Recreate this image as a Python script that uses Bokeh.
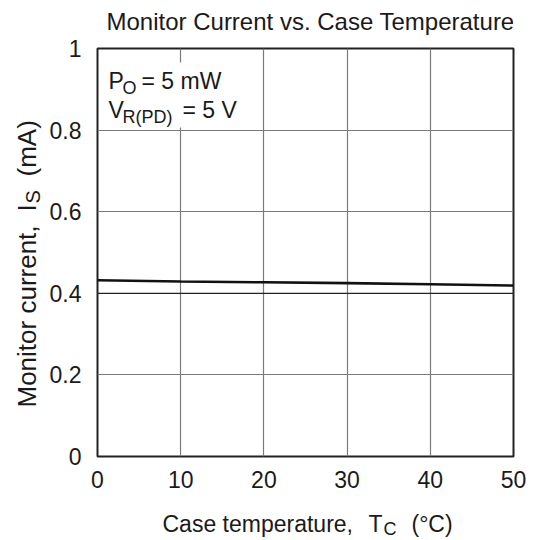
from math import pi
from bokeh.plotting import figure
from bokeh.layouts import row, column
from bokeh.models import Range1d, FixedTicker, Label, Span, BoxAnnotation
from bokeh.embed import file_html
from bokeh.resources import INLINE

# ---- data ----
temp_c = [0, 10, 20, 30, 40, 50]
monitor_ma = [0.432, 0.429, 0.427, 0.425, 0.422, 0.419]
x_ticks = [0, 10, 20, 30, 40, 50]
y_ticks = [0, 0.2, 0.4, 0.6, 0.8, 1]
y_tick_labels = ["0", "0.2", "0.4", "0.6", "0.8", "1"]
title_text = "Monitor Current vs. Case Temperature"

FONT = "Liberation Sans"
FS = 23
FS_SUB = 18
FS_TITLE = 24
FS_Y = 26
FS_Y_SUB = 20
TXT = "#1a1a1a"


def shift(size):
    # measured offset between the wanted baseline and where the text lands
    return 0.33 * size


# page geometry (pixels)
W, H = 534, 540
YL_W = 43          # strip for the rotated y label
TT_H = 35          # strip for the title
XL_H = 40          # strip for the x label
MAIN_W, MAIN_H = W - YL_W, H - TT_H - XL_H
FX0, FX1, FY0, FY1 = 97, 513, 48, 456
XMIN, XMAX, YMIN, YMAX = 0, 50, 0, 1
BL, BR = FX0 - YL_W, W - FX1


def dx(px):
    return XMIN + (px - FX0) / (FX1 - FX0) * (XMAX - XMIN)


def dy(py):
    return YMIN + (FY1 - py) / (FY1 - FY0) * (YMAX - YMIN)


p = figure(width=MAIN_W, height=MAIN_H, output_backend="svg", toolbar_location=None,
           x_range=Range1d(XMIN, XMAX), y_range=Range1d(YMIN, YMAX),
           min_border_left=BL, min_border_right=BR,
           min_border_top=FY0 - TT_H, min_border_bottom=TT_H + MAIN_H - FY1)
p.background_fill_color = "white"
p.border_fill_color = "white"
p.outline_line_color = "#222222"
p.outline_line_width = 2

for ax in (p.xaxis[0], p.yaxis[0]):
    ax.axis_line_color = None
    ax.major_tick_line_color = None
    ax.minor_tick_line_color = None
    ax.major_label_text_font = FONT
    ax.major_label_text_font_size = f"{FS}px"
    ax.major_label_text_color = TXT

p.xaxis[0].ticker = FixedTicker(ticks=x_ticks)
p.yaxis[0].ticker = FixedTicker(ticks=y_ticks)
p.yaxis[0].major_label_overrides = {t: s for t, s in zip(y_ticks, y_tick_labels)}
p.xaxis[0].major_label_standoff = 8
p.yaxis[0].major_label_standoff = 10

p.xgrid.ticker = FixedTicker(ticks=x_ticks)
p.ygrid.ticker = FixedTicker(ticks=y_ticks)
p.xgrid.grid_line_color = "#7a7a7a"
p.ygrid.grid_line_color = "#7a7a7a"
p.xgrid.grid_line_width = 1.2
p.ygrid.grid_line_width = 1.2

p.add_layout(Span(location=0.4, dimension="width", line_color="#222222", line_width=1.2))

p.line(temp_c, monitor_ma, line_color="#111111", line_width=2.6)

# white box behind the condition text
p.add_layout(BoxAnnotation(left=dx(104), right=dx(250), top=dy(62), bottom=dy(127),
                           fill_color="white", fill_alpha=1.0, line_color=None))


def plab(px, py, text, size=FS):
    p.add_layout(Label(x=dx(px), y=dy(py - shift(size)), text=text, text_font=FONT,
                       text_font_size=f"{size}px", text_color=TXT,
                       text_baseline="alphabetic"))


plab(108, 88, "P")
plab(122, 93, "O", FS_SUB)
plab(141, 88, "= 5 mW")
plab(108, 117, "V")
plab(122, 122, "R(PD)", FS_SUB)
plab(182, 117, "= 5 V")


def text_fig(w, h, x0, x1, y0, y1, bl=0, br=0):
    f = figure(width=w, height=h, output_backend="svg", toolbar_location=None,
               x_range=Range1d(x0, x1), y_range=Range1d(y1, y0),
               min_border_left=bl, min_border_right=br,
               min_border_top=0, min_border_bottom=0,
               x_axis_type=None, y_axis_type=None)
    f.outline_line_color = None
    f.background_fill_color = "white"
    f.border_fill_color = "white"
    return f


def flab(f, px, py, text, size=FS, rotated=False):
    if rotated:
        x, y, ang = px - shift(size), py, pi / 2
    else:
        x, y, ang = px, py - shift(size), 0.0
    f.add_layout(Label(x=x, y=y, text=text, text_font=FONT,
                       text_font_size=f"{size}px", text_color=TXT, angle=ang,
                       text_align="left", text_baseline="alphabetic"))


# title strip (frame aligned with the main frame horizontally)
tf = text_fig(MAIN_W, TT_H, FX0, FX1, 0, TT_H, BL, BR)
flab(tf, 106, 29, title_text, FS_TITLE)

# x label strip
xf = text_fig(MAIN_W, XL_H, FX0, FX1, H - XL_H, H, BL, BR)
flab(xf, 162, 531, "Case temperature,")
flab(xf, 368, 531, "T")
flab(xf, 383, 534, "C", FS_SUB)
flab(xf, 411, 531, "(°C)")

# y label strip
yf = text_fig(YL_W, H, 0, YL_W, 0, H)
flab(yf, 35, 407, "Monitor current,", FS_Y, rotated=True)
flab(yf, 35, 211, "I", FS_Y, rotated=True)
flab(yf, 39, 203, "S", FS_Y_SUB, rotated=True)
flab(yf, 35, 176, "(mA)", FS_Y, rotated=True)

layout = row(yf, column(tf, p, xf, spacing=0), spacing=0)

open("out.html", "w").write(file_html(layout, INLINE))
